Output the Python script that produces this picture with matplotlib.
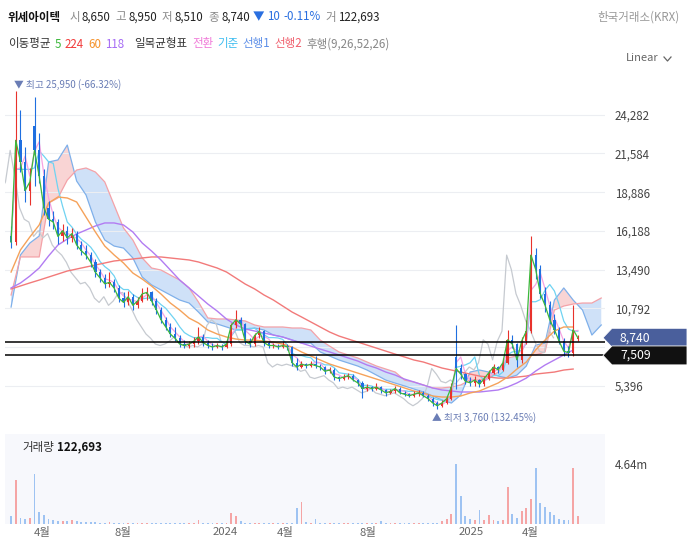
import numpy as np
import pandas as pd
import matplotlib
matplotlib.use("Agg")
import matplotlib.pyplot as plt
from matplotlib.patches import Polygon
from matplotlib.lines import Line2D
from matplotlib.transforms import blended_transform_factory

plt.rcParams["font.family"] = ["Noto Sans CJK KR", "DejaVu Sans"]

# ---------- data (weekly candles) ----------
START = "2023-02-13"
TICK_DATES = ["2023-04-03", "2023-08-01", "2024-01-02", "2024-04-01",
              "2024-08-01", "2025-01-02", "2025-04-01"]
TICK_LABELS = ["4월", "8월", "2024", "4월", "8월", "2025", "4월"]

opens = [15800, 15400, 22500, 21000, 19000, 23500, 21800, 20000, 17800, 17000,
         16800, 15800, 16200, 15700, 16000, 15200, 14800, 14500, 14000, 13300,
         12900, 12500, 12600, 12200, 11500, 11200, 11600, 11000, 11300, 11800,
         11900, 11300, 10700, 10000, 9500, 9000, 8700, 8300, 8200, 8300,
         8500, 8800, 8400, 8200, 8100, 8200, 8100, 8300, 9600, 10000,
         9700, 8500, 8300, 8900, 9200, 8400, 8150, 8200, 8100, 8200,
         8100, 7000, 6700, 6900, 6800, 6900, 6800, 6700, 6400, 6500,
         6000, 5900, 6000, 6100, 5800, 5600, 5200, 5300, 5200, 5300,
         5100, 4900, 5000, 5200, 4900, 4800, 4700, 4800, 4900, 4700,
         4500, 4200, 4000, 4200, 4500, 7400, 6600, 6200, 5700, 5600,
         5800, 5500, 5900, 6300, 6700, 6500, 7000, 8600, 8300, 7200,
         8500, 9200, 14500, 13500, 11800, 11000, 10000, 9300, 8500, 7800,
         7700, 8650]
highs = [16500, 25950, 24600, 22000, 20600, 25500, 23000, 20500, 18300, 17600,
         17000, 16700, 16500, 16400, 16200, 15500, 15200, 14700, 14200, 13500,
         13200, 13300, 12800, 12400, 11900, 12000, 11800, 11600, 12200, 12300,
         12000, 11500, 10900, 10200, 9800, 9500, 8900, 8600, 8500, 8800,
         9500, 9000, 8600, 8400, 8400, 8300, 8500, 9800, 10700, 10200,
         9800, 8700, 9100, 9500, 9300, 8500, 8400, 8300, 8500, 8300,
         8200, 7300, 7100, 7000, 7100, 7500, 6900, 6800, 6700, 6600,
         6100, 6200, 6300, 6200, 5900, 5700, 5500, 5400, 5600, 5400,
         5200, 5200, 5400, 5300, 5000, 4900, 5000, 5100, 5000, 4800,
         4600, 4300, 4400, 4700, 5600, 9600, 6900, 6300, 6000, 6100,
         5900, 6100, 6500, 6900, 6800, 7300, 9300, 8900, 8400, 8800,
         10000, 15800, 15000, 13800, 12300, 11300, 10400, 9500, 8700, 8200,
         11000, 8950]
lows = [15000, 15200, 20300, 18200, 18000, 19300, 19500, 17300, 16500, 16300,
        15300, 15500, 15300, 15400, 14900, 14500, 14200, 13700, 13000, 12600,
        12200, 12300, 11900, 11200, 10900, 11000, 10700, 10800, 11200, 11400,
        11000, 10400, 9800, 9300, 8800, 8500, 8100, 8000, 8000, 8100,
        8300, 8200, 8000, 7900, 8000, 7900, 8000, 8200, 9400, 9400,
        8300, 8100, 8200, 8700, 8200, 8000, 8000, 7950, 8000, 7900,
        6800, 6500, 6600, 6600, 6700, 6600, 6500, 6200, 6300, 5800,
        5700, 5800, 5900, 5700, 5400, 4550, 5000, 5000, 5100, 4900,
        4700, 4800, 4900, 4800, 4700, 4600, 4600, 4700, 4600, 4300,
        4000, 3760, 3900, 4100, 4400, 5200, 5900, 5500, 5400, 5400,
        5300, 5400, 5800, 6200, 6300, 6400, 6900, 8000, 6700, 7000,
        8300, 9100, 12800, 11500, 10500, 9700, 9000, 8300, 7500, 7400,
        7500, 8510]
closes = [15400, 22500, 21000, 19000, 19600, 21800, 20000, 17800, 17000, 16800,
          15800, 16200, 15700, 16000, 15200, 14800, 14500, 14000, 13300, 12900,
          12500, 12600, 12200, 11500, 11200, 11600, 11000, 11300, 11800, 11900,
          11300, 10700, 10000, 9500, 9000, 8700, 8300, 8200, 8300, 8500,
          8800, 8400, 8200, 8100, 8200, 8100, 8300, 9600, 10000, 9700,
          8500, 8300, 8900, 9200, 8400, 8200, 8200, 8100, 8200, 8100,
          7000, 6700, 6900, 6800, 6900, 6800, 6700, 6400, 6500, 6000,
          5900, 6000, 6100, 5800, 5600, 5200, 5300, 5200, 5300, 5100,
          4900, 5000, 5200, 4900, 4800, 4700, 4800, 4900, 4700, 4500,
          4200, 4000, 4200, 4500, 5300, 6600, 6200, 5700, 5600, 5800,
          5500, 5900, 6300, 6700, 6500, 7000, 8600, 8300, 7200, 8500,
          9200, 14500, 13500, 11800, 11000, 10000, 9300, 8500, 7800, 7700,
          9300, 8740]
volume_m = [0.6, 3.4, 0.5, 0.35, 0.5, 3.9, 0.9, 0.7, 0.4, 0.3,
            0.25, 0.2, 0.2, 0.3, 0.2, 0.15, 0.15, 0.12, 0.12, 0.1,
            0.1, 0.15, 0.1, 0.1, 0.1, 0.1, 0.08, 0.08, 0.1, 0.1,
            0.08, 0.08, 0.08, 0.08, 0.07, 0.07, 0.06, 0.06, 0.06, 0.06,
            0.3, 0.08, 0.06, 0.05, 0.05, 0.05, 0.1, 0.85, 0.6, 0.2,
            0.1, 0.06, 0.08, 0.08, 0.06, 0.05, 0.05, 0.05, 0.06, 0.05,
            0.1, 1.2, 1.7, 0.15, 0.1, 0.35, 0.1, 0.08, 0.06, 0.08,
            0.06, 0.06, 0.05, 0.05, 0.06, 0.1, 0.06, 0.05, 0.06, 0.2,
            0.06, 0.05, 0.06, 0.05, 0.05, 0.05, 0.05, 0.05, 0.06, 0.05,
            0.06, 0.1, 0.2, 0.4, 0.8, 4.64, 2.2, 0.6, 0.4, 0.3,
            1.1, 0.3, 0.7, 0.3, 0.2, 0.3, 2.85, 0.8, 0.5, 1.0,
            1.2, 1.9, 4.3, 1.6, 1.3, 0.9, 0.7, 0.4, 0.3, 0.3,
            4.3, 0.6]

# moving averages, one value every two weeks
ma60 = [13320, 14860, 15760, 16600, 18130, 18550, 18480, 18200, 17150, 16110,
        15130, 14510, 13950, 13250, 12830, 12340, 11790, 11160, 10670, 10110,
        9770, 9280, 9000, 8790, 8650, 8580, 8580, 8510, 8440, 8300,
        8090, 7750, 7470, 7190, 6910, 6700, 6490, 6280, 6070, 5860,
        5660, 5450, 5240, 5030, 4890, 4680, 4610, 4610, 4680, 4890,
        5030, 5310, 5590, 6000, 6560, 7050, 7890, 8580, 9210, 9490,
        9490]
ma118 = [12210, 12555, 13040, 13600, 14440, 15200, 15620, 15970, 16250, 16530,
         16740, 16740, 16600, 16110, 15340, 14780, 14160, 13460, 12760, 12210,
         11650, 11090, 10600, 10040, 9630, 9350, 9210, 9070, 8930, 8790,
         8580, 8370, 8160, 7950, 7750, 7540, 7330, 7120, 6840, 6630,
         6350, 6140, 5860, 5660, 5450, 5240, 5100, 5030, 4960, 4960,
         4960, 5030, 5100, 5310, 5590, 5930, 6420, 6840, 7190, 7540,
         7885]
ma224 = [12140, 12350, 12560, 12760, 12970, 13180, 13390, 13530, 13670, 13810,
         13950, 14090, 14160, 14230, 14300, 14370, 14370, 14300, 14230, 14160,
         14020, 13810, 13600, 13320, 12900, 12480, 12140, 11720, 11370, 10950,
         10530, 10190, 9840, 9490, 9140, 8860, 8650, 8440, 8230, 8020,
         7810, 7600, 7400, 7190, 7050, 6840, 6630, 6490, 6350, 6210,
         6070, 6000, 5930, 5930, 6000, 6070, 6210, 6280, 6350, 6490,
         6560]

# ichimoku leading spans, one value every two weeks (runs past the last candle)
span1 = [10880, 14510, 15340, 15830, 20990, 21130, 22170, 19660, 18690, 16810,
         15550, 15130, 14990, 14300, 12970, 12420, 12070, 11720, 11370, 11160,
         10530, 9840, 9700, 9490, 9280, 9280, 9420, 9280, 8930, 8790,
         8580, 8370, 8370, 7750, 7470, 7190, 6980, 6770, 6490, 6140,
         5790, 5580, 5380, 5170, 4960, 4680, 4400, 4190, 4750, 6350,
         6490, 6350, 6070, 5930, 6140, 6770, 8230, 8370, 11370, 12210,
         11370, 10670, 8930, 9630]
span2 = [11720, 14370, 14370, 14370, 18130, 18480, 19730, 20430, 20570, 20290,
         19600, 17990, 16390, 15550, 14300, 13600, 13460, 13110, 12760, 12210,
         11230, 10120, 10050, 10050, 9980, 9910, 9630, 9490, 9490, 9490,
         9420, 9420, 9280, 8580, 8160, 7750, 7540, 7330, 7050, 6770,
         6560, 6350, 5790, 5650, 5450, 5240, 5240, 5310, 5450, 5790,
         5790, 5930, 6350, 7330, 7470, 7540, 7540, 7750, 10670, 10950,
         11090, 11160, 11160, 11510]

PRICE_TICKS = [5396, 8094, 10792, 13490, 16188, 18886, 21584, 24282]
LAST_PRICE = 8740
DRAWN_LINES = [8420, 7509]

# ---------- colours ----------
UP, DOWN = "#e8322c", "#1f6fe0"
C_MA5, C_MA60, C_MA118, C_MA224 = "#3cb83c", "#f5a25a", "#b27cf2", "#f27a7a"
C_TENKAN, C_KIJUN = "#f7a3e2", "#6fd3f2"
C_SPAN1, C_SPAN2 = "#7fb0ea", "#f4a2a8"
C_LAG = "#c6cad0"

W, H = 690, 542
fig = plt.figure(figsize=(W / 100, H / 100), dpi=100)


def fx(px):
    return px / W


def fy(py):
    return 1 - py / H


ax = fig.add_axes([fx(5), fy(425), 600 / W, (425 - 72) / H])
vax = fig.add_axes([fx(5), fy(524), 600 / W, 90 / H], sharex=ax)

O, Hh, L, C = (np.array(a, float) for a in (opens, highs, lows, closes))
n = len(C)
x = 2 + 5 * np.arange(n)          # business days since START
xs = 2 + 10 * np.arange(len(ma60))
xsp = 2 + 10 * np.arange(len(span1))
up = C >= O
cols = np.where(up, UP, DOWN)

# ichimoku cloud
s1, s2 = np.array(span1, float), np.array(span2, float)
ax.fill_between(xsp, s1, s2, where=s1 >= s2, interpolate=True, color="#f9d4d4", lw=0, zorder=1)
ax.fill_between(xsp, s1, s2, where=s1 < s2, interpolate=True, color="#cfe1f8", lw=0, zorder=1)
ax.plot(xsp, s1, color=C_SPAN1, lw=0.9, zorder=2)
ax.plot(xsp, s2, color=C_SPAN2, lw=0.9, zorder=2)

# lagging span, conversion and base lines
ax.plot(x - 26, C, color=C_LAG, lw=0.9, zorder=2)
hs, ls = pd.Series(Hh), pd.Series(L)
tenkan = (hs.rolling(2, min_periods=1).max() + ls.rolling(2, min_periods=1).min()) / 2
kijun = (hs.rolling(5, min_periods=1).max() + ls.rolling(5, min_periods=1).min()) / 2
ax.plot(x, kijun, color=C_KIJUN, lw=0.9, zorder=3)
ax.plot(x, tenkan, color=C_TENKAN, lw=0.9, zorder=3)

# moving averages
ax.plot(xs, ma224, color=C_MA224, lw=1.0, zorder=3)
ax.plot(xs, ma118, color=C_MA118, lw=1.0, zorder=3)
ax.plot(xs, ma60, color=C_MA60, lw=1.0, zorder=3)

# candles
ax.vlines(x, L, Hh, colors=cols, lw=0.8, zorder=4)
ax.bar(x, np.maximum(np.abs(C - O), 60), bottom=np.minimum(O, C), width=2.4,
       color=cols, lw=0, zorder=4)
ax.plot(x, C, color=C_MA5, lw=0.9, zorder=5)

for p in DRAWN_LINES:
    ax.axhline(p, color="black", lw=1.1, zorder=6)

ax.set_xlim(-4.5, 636)
ax.set_ylim(2660, 27260)
ax.yaxis.tick_right()
ax.set_yticks(PRICE_TICKS)
ax.set_yticklabels(["" if v == 8094 else f"{v:,}" for v in PRICE_TICKS])
ax.tick_params(axis="y", length=0, pad=7, labelsize=8.3, labelcolor="#444")
ax.tick_params(axis="x", bottom=False, labelbottom=False)
ax.grid(axis="y", color="#eceef2", lw=0.8, zorder=0)
for s in ax.spines.values():
    s.set_visible(False)

# volume panel
vcols = np.where(up, "#f5a5a5", "#9ec3f2")
vax.bar(x, np.array(volume_m) * 1e6, width=2.0, color=vcols, lw=0)
vax.set_facecolor("#f7f8fc")
vax.set_ylim(0, 6.96e6)
vax.yaxis.tick_right()
vax.set_yticks([4.64e6])
vax.set_yticklabels(["4.64m"])
vax.tick_params(axis="y", length=0, pad=7, labelsize=8.3, labelcolor="#444")
ticks = np.busday_count(START, TICK_DATES)
vax.set_xticks(ticks)
vax.set_xticklabels(TICK_LABELS)
vax.tick_params(axis="x", length=0, pad=2, labelsize=8.2, labelcolor="#666")
for s in vax.spines.values():
    s.set_visible(False)

# price labels on the right
tr = blended_transform_factory(fig.transFigure, ax.transData)
hh = 660
for price, face in [(LAST_PRICE, "#4a5f9c"), (DRAWN_LINES[1], "#111111")]:
    poly = Polygon([(fx(603), price), (fx(612), price + hh), (fx(687), price + hh),
                    (fx(687), price - hh), (fx(612), price - hh)],
                   closed=True, transform=tr, fc=face, ec="white", lw=0.6, clip_on=False)
    fig.add_artist(poly)
    fig.text(fx(620), price, f"{price:,}", transform=tr, color="white",
             fontsize=8.8, va="center", ha="left")

# annotations for high / low
fig.text(fx(14), fy(85), "▼ 최고 25,950 (-66.32%)", color="#6a7db5", fontsize=7, va="center")
fig.text(fx(432), fy(418), "▲ 최저 3,760 (132.45%)", color="#6a7db5", fontsize=7, va="center")

# header rows
renderer = fig.canvas.get_renderer()


def put_row(x0, y0, parts, size):
    xp = x0
    for text, color, bold, gap in parts:
        t = fig.text(fx(xp), fy(y0), text, color=color, fontsize=size,
                     fontweight="bold" if bold else "normal", va="center", ha="left")
        xp += t.get_window_extent(renderer).width + gap


GRAY, DARK, BLUE = "#8a8a8a", "#222222", "#2a6fe0"
put_row(8, 17, [("위세아이텍", "#111", True, 8),
                ("시", GRAY, False, 2), ("8,650", DARK, False, 5),
                ("고", GRAY, False, 2), ("8,950", DARK, False, 5),
                ("저", GRAY, False, 2), ("8,510", DARK, False, 5),
                ("종", GRAY, False, 2), ("8,740", DARK, False, 3),
                ("▼", BLUE, False, 3), ("10", BLUE, False, 3), ("-0.11%", BLUE, False, 5),
                ("거", GRAY, False, 2), ("122,693", DARK, False, 0)], 8.3)
fig.text(fx(680), fy(17), "한국거래소(KRX)", color="#999", fontsize=8.3, va="center", ha="right")

put_row(8, 44, [("이동평균", "#333", False, 4), ("5", C_MA5, False, 4),
                ("224", "#f23b3b", False, 4), ("60", "#f5922a", False, 4),
                ("118", "#a66cf5", False, 10), ("일목균형표", "#333", False, 5),
                ("전환", "#f07ad8", False, 4), ("기준", "#3fbdf0", False, 4),
                ("선행1", "#5c8ee8", False, 4), ("선행2", "#f0606e", False, 4),
                ("후행(9,26,52,26)", "#888", False, 0)], 8.3)

fig.text(fx(626), fy(58), "Linear", color="#666", fontsize=8, va="center", ha="left")
fig.add_artist(Line2D([fx(664), fx(667.5), fx(671)], [fy(57), fy(61), fy(57)],
                      color="#666", lw=0.9, transform=fig.transFigure))

put_row(22, 447, [("거래량", "#333", False, 3), ("122,693", "#111", True, 0)], 8.3)

fig.savefig("out.png", dpi=100)
